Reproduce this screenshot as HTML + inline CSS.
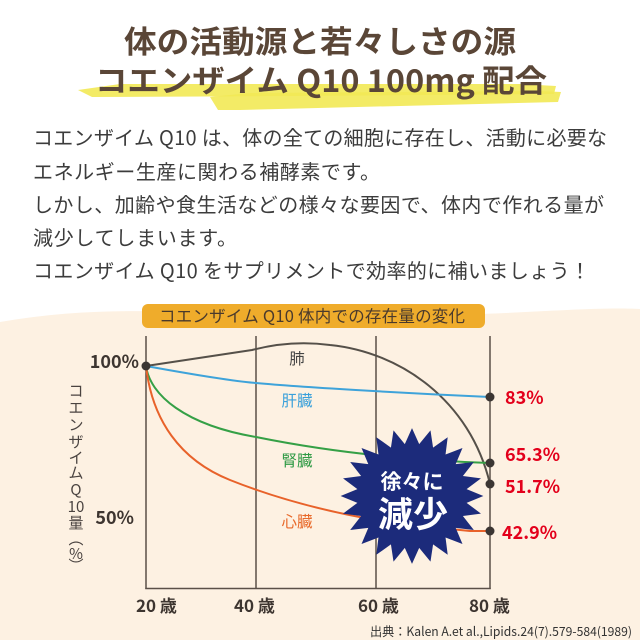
<!DOCTYPE html>
<html><head><meta charset="utf-8">
<style>
html,body{margin:0;padding:0;background:#fff;}
svg{display:block;}
text{font-family:"Liberation Sans","Noto Sans CJK JP",sans-serif;}
.jp{font-family:"Noto Sans CJK JP","Liberation Sans",sans-serif;}
</style></head>
<body>
<svg width="640" height="640" viewBox="0 0 640 640" xmlns="http://www.w3.org/2000/svg">
<rect width="640" height="640" fill="#ffffff"/>
<!-- cream background -->
<path d="M0,322 C70,310 140,309 200,314 L480,314 C540,312 600,307 640,309 L640,640 L0,640 Z" fill="#fdf1e2"/>

<!-- highlight bands -->
<polygon points="78,90 120,84 520,84 556,86 554,94 300,96 92,97" fill="#f2e955" opacity="0.9"/>
<polygon points="210,97 250,93 540,91 561,92 558,102 240,110 218,110" fill="#f2e955" opacity="0.9"/>

<!-- title -->
<text class="jp" x="124" y="53" font-size="31" font-weight="700" fill="#5a4637" textLength="392" lengthAdjust="spacingAndGlyphs">体の活動源と若々しさの源</text>
<text class="jp" x="95" y="92" font-size="31" font-weight="700" fill="#5a4637" textLength="452" lengthAdjust="spacingAndGlyphs">コエンザイム Q10 100mg 配合</text>

<!-- body -->
<g class="jp" font-size="20" fill="#3c3c3c">
<text class="jp" x="33" y="145" textLength="574" lengthAdjust="spacing">コエンザイム Q10 は、体の全ての細胞に存在し、活動に必要な</text>
<text class="jp" x="33" y="179" textLength="347" lengthAdjust="spacing">エネルギー生産に関わる補酵素です。</text>
<text class="jp" x="33" y="212" textLength="571" lengthAdjust="spacing">しかし、加齢や食生活などの様々な要因で、体内で作れる量が</text>
<text class="jp" x="33" y="245" textLength="204" lengthAdjust="spacing">減少してしまいます。</text>
<text class="jp" x="33" y="278" textLength="557" lengthAdjust="spacing">コエンザイム Q10 をサプリメントで効率的に補いましょう！</text>
</g>

<!-- chart title pill -->
<rect x="142" y="304" width="343" height="24" rx="6" fill="#efac2b"/>
<text class="jp" x="159" y="322" font-size="16.5" fill="#4a3a2c" textLength="306" lengthAdjust="spacing">コエンザイム Q10 体内での存在量の変化</text>

<!-- grid / axes -->
<g stroke="#5b5048" stroke-width="1.5" fill="none">
<line x1="146" y1="336" x2="146" y2="589"/>
<line x1="256" y1="336" x2="256" y2="589"/>
<line x1="376" y1="336" x2="376" y2="589"/>
<line x1="490" y1="336" x2="490" y2="589"/>
<line x1="145.25" y1="588.5" x2="490.75" y2="588.5"/>
</g>

<!-- series -->
<g fill="none" stroke-width="2">
<path d="M146,366 L252,350 C275,344 300,341 330,345 C400,352 470,400 490,484" stroke="#555049"/>
<path d="M146,366 C190,374 230,381 256,383 C300,387 400,393 490,397" stroke="#3ea3da"/>
<path d="M146,366 C150,395 185,425 256,437 C320,450 400,460 490,463" stroke="#35a046"/>
<path d="M146,366 C152,420 180,460 230,480 C280,500 340,515 400,524 L470,531 L490,531" stroke="#e8622a"/>
</g>

<!-- series labels -->
<text class="jp" x="297" y="364" font-size="15.5" fill="#444" text-anchor="middle">肺</text>
<text class="jp" x="297" y="406" font-size="15.5" fill="#3aa0da" text-anchor="middle">肝臓</text>
<text class="jp" x="297" y="466" font-size="15.5" fill="#2f9a45" text-anchor="middle">腎臓</text>
<text class="jp" x="297" y="527" font-size="15.5" fill="#e8692a" text-anchor="middle">心臓</text>

<!-- starburst -->
<g transform="translate(412,496) scale(1.02,0.97)">
<polygon fill="#1c2b7b" points="0,-70 7.05,-53.54 18.12,-67.62 20.66,-49.89 35,-60.62 32.87,-42.84 49.5,-49.5 42.84,-32.87 60.62,-35 49.89,-20.66 67.62,-18.12 53.54,-7.05 70,0 53.54,7.05 67.62,18.12 49.89,20.66 60.62,35 42.84,32.87 49.5,49.5 32.87,42.84 35,60.62 20.66,49.89 18.12,67.62 7.05,53.54 0,70 -7.05,53.54 -18.12,67.62 -20.66,49.89 -35,60.62 -32.87,42.84 -49.5,49.5 -42.84,32.87 -60.62,35 -49.89,20.66 -67.62,18.12 -53.54,7.05 -70,0 -53.54,-7.05 -67.62,-18.12 -49.89,-20.66 -60.62,-35 -42.84,-32.87 -49.5,-49.5 -32.87,-42.84 -35,-60.62 -20.66,-49.89 -18.12,-67.62 -7.05,-53.54"/>
</g>
<text class="jp" x="412" y="489" font-size="21" font-weight="700" fill="#fff" text-anchor="middle">徐々に</text>
<text class="jp" x="413" y="527" font-size="35" font-weight="700" fill="#fff" text-anchor="middle">減少</text>

<!-- dots -->
<g fill="#3b3633">
<circle cx="146" cy="366" r="4.5"/>
<circle cx="490" cy="397" r="4.5"/>
<circle cx="490" cy="463" r="4.5"/>
<circle cx="490" cy="484" r="4.5"/>
<circle cx="490" cy="531" r="4.5"/>
</g>

<!-- value labels -->
<g font-size="18" font-weight="700" fill="#e3001b">
<text class="jp" x="505" y="404">83%</text>
<text class="jp" x="505" y="461">65.3%</text>
<text class="jp" x="505" y="493">51.7%</text>
<text class="jp" x="502" y="539">42.9%</text>
</g>

<!-- y labels -->
<text class="jp" x="139" y="368" font-size="18" font-weight="700" fill="#3d3530" text-anchor="end">100%</text>
<text class="jp" x="134" y="524" font-size="18" font-weight="700" fill="#3d3530" text-anchor="end">50%</text>

<!-- y axis title (vertical) -->
<g class="jp" font-size="15" fill="#4a4340" text-anchor="middle">
<text class="jp" x="76" y="396">コ</text>
<text class="jp" x="76" y="413">エ</text>
<text class="jp" x="76" y="430">ン</text>
<text class="jp" x="76" y="447">ザ</text>
<text class="jp" x="76" y="463">イ</text>
<text class="jp" x="76" y="478">ム</text>
<text class="jp" x="76" y="495">Q</text>
<text class="jp" x="76" y="512">10</text>
<text class="jp" x="76" y="528">量</text>
<text class="jp" x="76" y="544">︵</text>
<text class="jp" x="76" y="559">%</text>
<text class="jp" x="76" y="571">︶</text>
</g>

<!-- x labels -->
<g font-size="17" font-weight="700" fill="#3d3530">
<text class="jp" x="136" y="612">20 歳</text>
<text class="jp" x="234" y="612">40 歳</text>
<text class="jp" x="358" y="612">60 歳</text>
<text class="jp" x="469" y="612">80 歳</text>
</g>

<!-- source -->
<text class="jp" x="370" y="636" font-size="12.5" fill="#333" textLength="262" lengthAdjust="spacingAndGlyphs">出典：Kalen A.et al.,Lipids.24(7).579-584(1989)</text>
</svg>
</body></html>
